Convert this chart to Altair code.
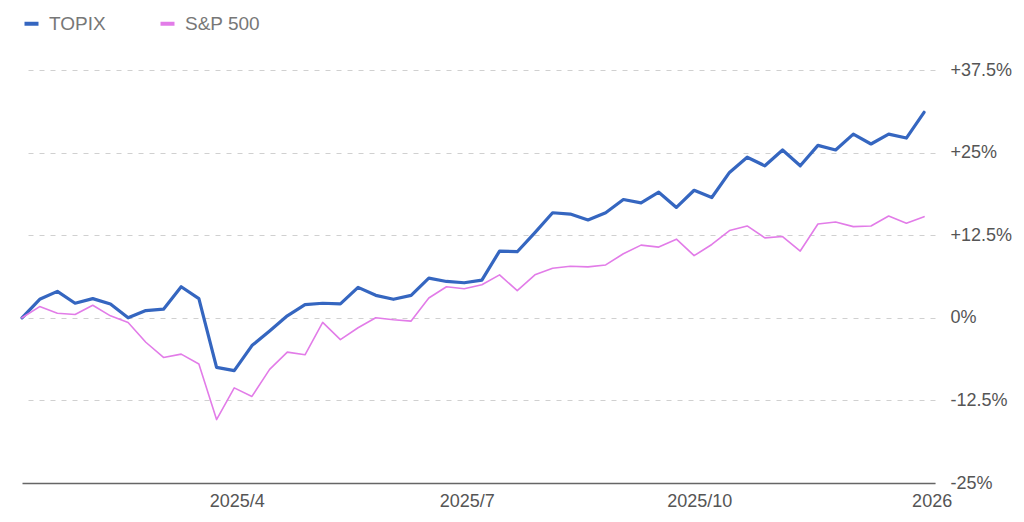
import altair as alt
import pandas as pd

# Weekly observations (Monday of each week), 2025-01-06 .. 2025-12-29
dates = pd.date_range("2025-01-06", periods=52, freq="7D").strftime("%Y-%m-%d").tolist()

topix = [0.0, 2.8, 4.0, 2.2, 2.9, 2.1, 0.0, 1.1, 1.3, 4.7,
         2.9, -7.5, -8.0, -4.2, -2.0, 0.3, 2.0, 2.2, 2.1, 4.6,
         3.4, 2.8, 3.4, 6.0, 5.5, 5.3, 5.7, 10.1, 10.0, 12.9,
         15.9, 15.7, 14.8, 15.9, 17.9, 17.4, 19.0, 16.7, 19.3, 18.2,
         22.0, 24.3, 23.0, 25.4, 23.0, 26.1, 25.4, 27.8, 26.3, 27.8,
         27.2, 31.1]

sp500 = [0.0, 1.7, 0.7, 0.5, 1.9, 0.3, -0.7, -3.7, -6.0, -5.5,
         -7.0, -15.4, -10.6, -11.9, -7.8, -5.2, -5.6, -0.7, -3.3, -1.5,
         0.0, -0.3, -0.5, 3.0, 4.7, 4.4, 5.0, 6.5, 4.1, 6.5,
         7.5, 7.8, 7.7, 8.0, 9.7, 11.0, 10.7, 11.9, 9.4, 11.1,
         13.2, 13.9, 12.1, 12.3, 10.1, 14.2, 14.5, 13.8, 13.9, 15.4,
         14.3, 15.3]

series_names = ["TOPIX", "S&P 500"]
series_colors = ["#3566c0", "#e27ce8"]
series_widths = [3.2, 1.6]

y_ticks = [-25, -12.5, 0, 12.5, 25, 37.5]

rows = []
for name, vals in zip(series_names, [topix, sp500]):
    for d, v in zip(dates, vals):
        rows.append({"date": d, "series": name, "value": v})
df = pd.DataFrame(rows)

FONT = "Liberation Sans"

x_enc = alt.X(
    "date:T",
    scale=alt.Scale(
        type="utc",
        domain=[alt.DateTime(year=2025, month=1, date=6, utc=True),
                alt.DateTime(year=2026, month=1, date=2, hours=8, utc=True)],
    ),
    axis=alt.Axis(
        values=[alt.DateTime(year=2025, month=4, date=1, utc=True),
                alt.DateTime(year=2025, month=7, date=1, utc=True),
                alt.DateTime(year=2025, month=10, date=1, utc=True),
                alt.DateTime(year=2026, month=1, date=1, utc=True)],
        labelExpr="utcmonth(datum.value) == 0 ? utcFormat(datum.value, '%Y') : utcFormat(datum.value, '%Y/%-m')",
        title=None,
        grid=False,
        ticks=False,
        domainColor="#666666",
        domainWidth=1.5,
        labelFont=FONT,
        labelFontSize=18,
        labelColor="#555555",
        labelPadding=9,
        labelFlush=False,
        labelOverlap=False,
    ),
)

y_enc = alt.Y(
    "value:Q",
    scale=alt.Scale(domain=[-25, 37.5], nice=False, zero=False),
    axis=alt.Axis(
        orient="right",
        values=y_ticks,
        labelExpr="datum.value > 0 ? '+' + datum.value + '%' : datum.value + '%'",
        title=None,
        domain=False,
        ticks=False,
        grid=True,
        gridDash=[5, 6],
        gridColor="#d0d0d0",
        gridWidth=1,
        labelFont=FONT,
        labelFontSize=18,
        labelColor="#555555",
        labelPadding=15,
        labelBaseline="middle",
    ),
)

color_enc = alt.Color(
    "series:N",
    scale=alt.Scale(domain=series_names, range=series_colors),
    sort=series_names,
    legend=alt.Legend(
        title=None,
        orient="none",
        legendX=0,
        legendY=-56,
        direction="horizontal",
        symbolType="stroke",
        symbolSize=196,
        symbolStrokeWidth=4,
        labelFont=FONT,
        labelFontSize=19,
        labelColor="#777777",
        labelOffset=8,
        columnPadding=46,
    ),
)

base = alt.Chart(df).encode(x=x_enc, y=y_enc, color=color_enc, order=alt.Order("date:T"))

layers = [
    base.transform_filter(alt.datum.series == name).mark_line(
        strokeWidth=w, strokeJoin="round", strokeCap="round"
    )
    for name, w in zip(series_names, series_widths)
]

chart = (
    alt.layer(*layers)
    .properties(
        width=913,
        height=413,
        background="white",
        autosize=alt.AutoSizeParams(type="none"),
        padding={"left": 14, "top": 62, "right": 80, "bottom": 32},
    )
    .configure_view(strokeWidth=0, stroke="transparent")
)

chart.save("out.html", embed_options={"renderer": "svg", "actions": False})
